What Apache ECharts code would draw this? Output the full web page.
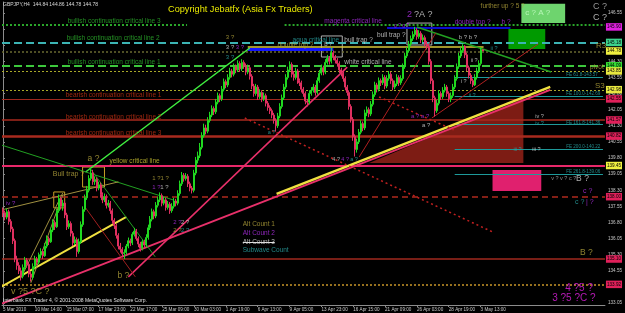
<!DOCTYPE html>
<html><head><meta charset="utf-8">
<script src="https://cdn.jsdelivr.net/npm/echarts@6/dist/echarts.min.js"></script>
<style>html,body{margin:0;padding:0;background:#000}#c{width:625px;height:313px}</style>
</head><body><div id="c"></div>
<script>
const FONT = 'Liberation Sans, Arial, sans-serif';

// ---------- DATA ----------
const xLabels = ['5 Mar 2010','10 Mar 14:00','15 Mar 07:00','17 Mar 23:00','22 Mar 17:00','25 Mar 09:00','30 Mar 03:00','1 Apr 19:00','6 Apr 13:00','9 Apr 05:00','13 Apr 23:00','16 Apr 15:00','21 Apr 09:00','26 Apr 03:00','28 Apr 19:00','3 May 13:00'];
const yTicks = [133.05,133.80,134.55,135.30,136.05,136.80,137.55,138.30,139.05,139.80,140.55,141.30,142.05,142.80,143.55,144.30,145.05,145.80,146.55];

const opens = [
137.40,137.25,137.05,137.30,136.85,136.50,135.95,135.10,134.80,134.55,
134.30,134.70,135.05,134.85,134.40,134.25,134.75,135.10,134.95,135.30,
135.45,135.25,135.70,136.05,135.90,136.45,136.80,136.60,137.35,137.90,
137.55,137.70,137.15,136.60,136.75,136.30,135.85,136.00,135.45,135.90,
136.70,137.40,137.95,138.30,138.85,139.10,138.70,138.80,138.40,138.55,
138.10,137.85,138.00,137.60,137.70,137.35,136.90,136.65,136.20,135.70,
135.55,135.35,135.40,135.70,135.95,135.85,136.25,136.40,136.05,135.80,
135.60,135.90,135.75,136.10,136.55,136.95,137.30,137.10,137.60,137.85,
138.05,137.70,137.85,137.50,137.65,137.35,137.55,137.80,137.70,138.15,
138.60,139.00,138.85,138.95,138.60,138.40,138.30,139.10,139.70,139.90,
140.30,140.85,141.20,141.05,141.55,141.80,142.10,141.95,142.40,142.70,
142.55,143.00,143.35,143.20,143.55,143.85,143.70,144.05,143.90,144.20,
143.95,144.25,144.10,143.80,144.00,143.60,143.15,142.80,143.10,142.65,
142.85,142.55,142.70,142.35,142.15,142.00,141.80,141.55,141.30,141.75,
142.20,142.60,143.10,143.55,143.90,144.15,143.70,143.55,143.85,143.40,
143.30,143.00,142.80,142.45,142.40,142.80,142.95,143.10,142.85,143.40,
143.75,144.00,143.80,144.25,144.45,144.30,144.70,144.50,144.35,144.20,
143.90,143.75,143.50,143.10,142.85,142.20,141.60,140.80,140.20,140.55,
141.00,141.40,141.20,141.90,142.05,141.85,142.30,142.75,143.20,143.00,
143.40,143.30,143.55,143.15,143.50,143.70,143.40,143.10,143.25,143.55,
143.30,143.50,144.05,144.55,144.80,145.10,145.35,145.55,145.75,145.45,
145.60,145.30,145.40,145.10,145.00,144.30,143.40,142.60,142.00,142.35,
142.80,142.65,142.95,143.10,142.80,142.55,142.70,143.10,143.50,144.05,
144.55,144.80,145.00,144.60,144.00,143.65,143.40,143.20,143.55,143.85,
144.20,144.84];
const closes = [
137.25,137.05,137.30,136.85,136.50,135.95,135.10,134.80,134.55,134.30,
134.70,135.05,134.85,134.40,134.25,134.75,135.10,134.95,135.30,135.45,
135.25,135.70,136.05,135.90,136.45,136.80,136.60,137.35,137.90,137.55,
137.70,137.15,136.60,136.75,136.30,135.85,136.00,135.45,135.90,136.70,
137.40,137.95,138.30,138.85,139.10,138.70,138.80,138.40,138.55,138.10,
137.85,138.00,137.60,137.70,137.35,136.90,136.65,136.20,135.70,135.55,
135.35,135.40,135.70,135.95,135.85,136.25,136.40,136.05,135.80,135.60,
135.90,135.75,136.10,136.55,136.95,137.30,137.10,137.60,137.85,138.05,
137.70,137.85,137.50,137.65,137.35,137.55,137.80,137.70,138.15,138.60,
139.00,138.85,138.95,138.60,138.40,138.30,139.10,139.70,139.90,140.30,
140.85,141.20,141.05,141.55,141.80,142.10,141.95,142.40,142.70,142.55,
143.00,143.35,143.20,143.55,143.85,143.70,144.05,143.90,144.20,143.95,
144.25,144.10,143.80,144.00,143.60,143.15,142.80,143.10,142.65,142.85,
142.55,142.70,142.35,142.15,142.00,141.80,141.55,141.30,141.75,142.20,
142.60,143.10,143.55,143.90,144.15,143.70,143.55,143.85,143.40,143.30,
143.00,142.80,142.45,142.40,142.80,142.95,143.10,142.85,143.40,143.75,
144.00,143.80,144.25,144.45,144.30,144.70,144.50,144.35,144.20,143.90,
143.75,143.50,143.10,142.85,142.20,141.60,140.80,140.20,140.55,141.00,
141.40,141.20,141.90,142.05,141.85,142.30,142.75,143.20,143.00,143.40,
143.30,143.55,143.15,143.50,143.70,143.40,143.10,143.25,143.55,143.30,
143.50,144.05,144.55,144.80,145.10,145.35,145.55,145.75,145.45,145.60,
145.30,145.40,145.10,145.00,144.30,143.40,142.60,142.00,142.35,142.80,
142.65,142.95,143.10,142.80,142.55,142.70,143.10,143.50,144.05,144.55,
144.80,145.00,144.60,144.00,143.65,143.40,143.20,143.55,143.85,144.20,
144.84,144.78];
const highs = [
137.50,137.35,137.45,137.40,136.95,136.60,136.05,135.25,134.95,134.70,
134.85,135.20,135.15,134.95,134.50,134.90,135.25,135.20,135.40,135.60,
135.55,135.85,136.20,136.15,136.55,136.95,136.90,137.45,138.10,138.00,
137.85,137.80,137.25,136.90,136.85,136.40,136.15,136.10,136.05,136.85,
137.55,138.10,138.50,139.00,139.35,139.25,138.95,138.90,138.70,138.65,
138.20,138.15,138.10,137.85,137.80,137.45,137.00,136.75,136.30,135.85,
135.65,135.55,135.80,136.10,136.05,136.35,136.55,136.50,136.15,135.90,
136.00,136.00,136.25,136.70,137.10,137.45,137.40,137.75,138.00,138.20,
138.15,138.00,137.95,137.80,137.75,137.70,137.95,137.90,138.30,138.75,
139.15,139.10,139.10,139.05,138.70,138.50,139.25,139.85,140.10,140.50,
141.00,141.40,141.35,141.70,141.95,142.25,142.20,142.55,142.85,142.80,
143.15,143.50,143.45,143.70,144.00,143.95,144.20,144.15,144.35,144.30,
144.40,144.35,144.20,144.15,144.10,143.70,143.25,143.25,143.20,143.00,
142.95,142.85,142.80,142.45,142.25,142.10,141.90,141.65,141.90,142.35,
142.75,143.25,143.70,144.05,144.30,144.25,143.85,144.00,143.95,143.50,
143.40,143.10,142.90,142.55,142.95,143.10,143.25,143.20,143.55,143.90,
144.15,144.10,144.40,144.60,144.55,144.93,144.80,144.60,144.45,144.30,
144.00,143.85,143.60,143.20,142.95,142.30,141.70,140.90,140.70,141.15,
141.55,141.50,142.05,142.20,142.15,142.45,142.90,143.35,143.30,143.55,
143.50,143.70,143.65,143.65,143.85,143.80,143.50,143.40,143.70,143.65,
143.65,144.20,144.70,144.95,145.25,145.50,145.70,145.90,145.85,145.75,
145.70,145.55,145.50,145.25,145.10,144.40,143.50,142.70,142.50,142.95,
142.90,143.10,143.25,143.20,142.90,142.85,143.25,143.65,144.20,144.70,
144.95,145.10,145.05,144.70,144.10,143.75,143.50,143.70,144.00,144.35,
144.95,144.86];
const lows = [
137.05,136.90,136.95,136.70,136.35,135.80,134.95,134.60,134.40,134.10,
134.20,134.60,134.70,134.25,134.05,134.15,134.65,134.80,134.85,135.15,
135.10,135.20,135.60,135.75,135.85,136.35,136.45,136.55,137.25,137.40,
137.35,137.00,136.45,136.50,136.15,135.70,135.75,135.20,135.35,135.80,
136.60,137.30,137.85,138.20,138.75,138.55,138.55,138.25,138.30,137.95,
137.70,137.75,137.45,137.50,137.20,136.75,136.50,136.05,135.55,135.40,
135.20,135.10,135.30,135.60,135.70,135.75,136.15,135.95,135.65,135.45,
135.50,135.60,135.65,136.00,136.45,136.85,136.95,137.00,137.50,137.75,
137.55,137.60,137.35,137.40,137.20,137.25,137.45,137.55,137.60,138.05,
138.50,138.70,138.75,138.45,138.25,138.15,138.20,139.00,139.55,139.80,
140.20,140.75,140.90,140.95,141.45,141.70,141.80,141.85,142.30,142.40,
142.45,142.90,143.05,143.10,143.45,143.55,143.60,143.75,143.80,143.80,
143.85,143.95,143.65,143.70,143.45,143.00,142.65,142.70,142.50,142.55,
142.40,142.45,142.20,142.00,141.85,141.65,141.40,141.03,141.20,141.65,
142.10,142.50,143.00,143.45,143.80,143.55,143.40,143.45,143.25,143.15,
142.85,142.65,142.30,142.20,142.30,142.70,142.85,142.70,142.75,143.30,
143.65,143.65,143.70,144.15,144.15,144.20,144.35,144.20,144.05,143.75,
143.60,143.35,142.95,142.70,142.05,141.45,140.60,139.87,140.05,140.45,
140.90,141.05,141.10,141.75,141.70,141.75,142.20,142.65,142.85,142.90,
143.15,143.20,143.00,143.05,143.40,143.25,142.95,143.00,143.15,143.15,
143.20,143.40,143.95,144.45,144.70,145.00,145.25,145.45,145.30,145.35,
145.15,145.20,144.95,144.85,144.15,143.25,142.40,141.73,141.90,142.25,
142.50,142.55,142.85,142.65,142.40,142.40,142.60,143.00,143.40,143.95,
144.45,144.70,144.45,143.85,143.50,143.25,143.10,143.15,143.45,143.75,
144.10,144.78];

// price levels shown as coloured boxes on the price scale
const boxLevels = [145.90,145.18,144.78,144.09,143.85,142.98,142.55,141.57,140.82,139.45,138.00,135.10,133.92];
// horizontal critical lines
const hLevels = [145.99,145.15,144.74,144.08,143.85,142.97,142.55,141.57,140.80,139.43,138.00,135.10,133.90];
// fibonacci extension levels
const feRatios = ['61.8','100.0','161.8','200.0','261.8'];
const feLevels = [143.57,142.69,141.36,140.22,139.06];

// ---------- STYLES / ANNOTATION GEOMETRY (data units: bar index, price) ----------
const AX_BARS = 303;
const boxColors = ['#e020e0','#3cd28c','#f0f040','#33dd33','#e8e840','#e8e840','#e0205a','#e0205a','#e0205a','#f0f040','#e0205a','#e0205a','#e0205a'];
const hStyle = [
 {c:'#2aa52a', w:2, t:[2,2], segs:[[-0.5,92.5],[141.5,302.5]]},
 {c:'#3cb4b4', w:2, t:[8,4]},
 {c:'#6a6a30', w:1.5, t:[2,2]},
 {c:'#3cc83c', w:2, t:[8,4]},
 {c:'#a8a828', w:1, t:[2,2]},
 {c:'#a8a828', w:1, t:[2,2]},
 {c:'#a0281e', w:1},
 {c:'#a82a1e', w:1.5},
 {c:'#a82a1e', w:2.5},
 {c:'#e8286a', w:2},
 {c:'#b02a1e', w:1.5, t:[6,4]},
 {c:'#a0281e', w:1.5},
 {c:'#96701e', w:2, t:[2,2]}
];
const partialLines = [
 {x0:123, x1:166, p:144.88, c:'#1414ff', w:3},
 {x0:123, x1:241.5, p:144.97, c:'#d8c838', w:1.5},
 {x0:193, x1:255, p:145.86, c:'#0c0cd0', w:2},
 {x0:120.5, x1:136.5, p:135.89, c:'#e0e0e0', w:1}
];
const trendLines = [
 {a:[-1,133.01], b:[275,142.97], c:'#e8306a', w:2},
 {a:[137.5,138.13], b:[275,143.11], c:'#f0e040', w:2.5},
 {a:[-1,133.80], b:[62,137.06], c:'#f0e040', w:2},
 {a:[41.5,139.15], b:[124,144.92], c:'#40f040', w:1.5},
 {a:[-1,140.41], b:[85.5,137.85], c:'#22a022', w:1},
 {a:[44,139.29], b:[76.5,135.20], c:'#22a022', w:1},
 {a:[208,145.90], b:[275.5,143.80], c:'#22a022', w:1.5},
 {a:[63,134.27], b:[173,144.03], c:'#e8306a', w:1.5},
 {a:[179,139.85], b:[217.5,145.62], c:'#b02020', w:1},
 {a:[215.5,141.66], b:[269,145.11], c:'#b02020', w:1},
 {a:[121.5,141.66], b:[246.5,136.34], c:'#c02020', w:1.5, t:[2,3]},
 {a:[189,142.64], b:[226.5,141.11], c:'#c02020', w:1.5, t:[2,3]},
 {a:[-1,137.38], b:[58,138.69], c:'#a09040', w:1},
 {a:[9,134.22], b:[30,138.17], c:'#a09040', w:1},
 {a:[14,133.99], b:[30,138.08], c:'#a09040', w:1},
 {a:[41.5,137.48], b:[66.5,134.27], c:'#a02020', w:1}
];
const rects = [
 {a:[260.5,146.98], b:[282.5,146.08], fill:'#6ed46e'},
 {a:[254,145.80], b:[272.5,144.87], fill:'#009a00'},
 {a:[246,139.24], b:[270.5,138.27], fill:'#e0206e'},
 {a:[25.5,138.22], b:[31,137.48], border:'#c8a028'},
 {a:[40,139.38], b:[51,138.45], border:'#c8a028'},
 {a:[160,145.48], b:[170.5,144.50], border:'#b0b0b0'},
 {a:[203,146.08], b:[215.5,145.06], border:'#b0b0b0'}
];
const triangle = [[184,139.57],[261.5,142.57],[261.5,139.57]];

const OL='#b4a43c', MG='#b030e8', WH='#d8d8d8', TL='#2aa8a8', GR='#2db42d', RD='#c83214', MG2='#e020e0';
const notes = [
 [32.5,146.18,'bullish continuation critical line 3',GR,6.5],
 [32,145.39,'bullish continuation critical line 2',GR,6.5],
 [32.5,144.27,'bullish continuation critical line 1',GR,6.5],
 [31.5,142.73,'bearish continuation critical line 1',RD,6.5],
 [31.5,141.71,'bearish continuation critical line 2',RD,6.5],
 [31.5,140.97,'bearish continuation critical line 3',RD,6.5],
 [112,145.43,'3 ?',OL,6],
 [112,144.97,'3 ?',WH,6],[117,144.97,'3 ?',MG,6],
 [112,144.50,'3 ?',TL,6],
 [145.5,145.29,'aqua critical line',TL,6.5],
 [138,145.04,'double top ?',OL,6.5],
 [171.5,145.29,'bull trap ?',WH,6.5],
 [161.5,145.06,'B ?',WH,5],
 [171.5,144.27,'white critical line',WH,6.5],
 [161.5,146.18,'magenta critical line',MG,6.5],
 [203,146.46,'2',MG,9],[206.5,146.46,'?A ?',WH,9],
 [196.5,145.95,'g ? g ?',MG,5],
 [188,145.53,'bull trap ?',WH,6.5],
 [227,146.13,'double top ?',MG,6.5],
 [250.5,146.13,'b ?',MG,6.5],
 [240,146.88,'further up ? 5 ?',OL,6.5],
 [262.5,146.58,'c ? A ?','#c8ffc8',8],
 [296.5,146.83,'C ?','#b8b8b8',9],[296.5,146.36,'C ?','#d8d8d8',9],
 [229,145.43,'b ? b ?',WH,6],
 [245,144.92,'ii ?',TL,5.5],
 [235,144.36,'ii ?',WH,5.5],
 [230,143.34,'i ?',WH,5.5],
 [234,142.73,'ii ?',TL,5.5],
 [298,145.01,'R3',OL,8],
 [295,144.04,'pivot',OL,6.5],
 [297.5,143.15,'S3',OL,8],
 [267.5,141.75,'iv ?',WH,5.5],[267.5,141.43,'iv ?',TL,5.5],
 [256.5,140.22,'iii ?',TL,5.5],[266,140.22,'iii ?',WH,5.5],
 [165.5,139.71,'4 ?',WH,5.5],[170,139.71,'4 ?',MG,5.5],[174.5,139.71,'a ?',TL,5.5],
 [205,141.75,'a ? a ?',MG,6],[210.5,141.34,'a ?',WH,6],
 [133,141.0,'a ?',TL,5.5],
 [275.5,138.83,'v ? v ? c ?','#b0b0b0',5.5],[288,138.83,'B ?',WH,8.5],
 [291.5,138.27,'c ?',MG,7],
 [287.5,137.76,'c ?',TL,7],[293,137.76,'| ?',MG,7],
 [290,135.38,'B ?',OL,8.5],
 [282.5,133.75,'4 ?5 ?',MG2,10],
 [276,133.29,'3 ?5 ?C ?',MG2,10],
 [1.5,137.71,'iv ?',MG,6],
 [25,139.06,'Bull trap ?',OL,7],
 [42.5,139.76,'a ?',OL,8.5],
 [53.5,139.66,'yellow critical line','#d2c832',6.5],
 [75,138.87,'1 ?1 ?',OL,6],[75,138.45,'1 ?',MG,6],[79,138.45,'1 ?',WH,6],
 [85.5,136.82,'2 ?',MG,6],[89.5,136.82,'2 ?',WH,6],[85.5,136.45,'2 ?',OL,6],[89.5,136.45,'2 ?',TL,6],
 [57.5,134.31,'b ?',OL,8.5],
 [4,133.57,'v ?5 ?C ?',OL,9],
 [120.5,136.73,'Alt Count 1',OL,6.5],
 [120.5,136.31,'Alt Count 2',MG,6.5],
 [120.5,135.89,'Alt Count 3',WH,6.5],
 [120.5,135.52,'Subwave Count',TL,6.5]
];

// ---------- BUILD ----------
const categories = Array.from({length: AX_BARS}, (_, i) => String(i));
const candles = closes.map((c, i) => [opens[i], c, lows[i], highs[i]]);
const last = closes.length - 1;

const lineItems = [];
hLevels.forEach((p, i) => {
  const s = hStyle[i];
  (s.segs || [[-0.5, 302.5]]).forEach(seg => {
    lineItems.push({coords:[[seg[0], p],[seg[1], p]], lineStyle:{color:s.c, width:s.w, type:s.t || 'solid', opacity:1}});
  });
});
partialLines.forEach(l => lineItems.push({coords:[[l.x0,l.p],[l.x1,l.p]], lineStyle:{color:l.c, width:l.w, opacity:1}}));
feLevels.forEach(p => lineItems.push({coords:[[227,p],[301.5,p]], lineStyle:{color:'#1e9a9a', width:1, opacity:1}}));
trendLines.forEach(l => lineItems.push({coords:[l.a, l.b], lineStyle:{color:l.c, width:l.w, type:l.t || 'solid', opacity:1}}));

const noteItems = notes.map(n => ({value:[n[0], n[1]], label:{formatter:n[2], color:n[3], fontSize:n[4]}}));
feLevels.forEach((p, i) => noteItems.push({value:[283, p + 0.09], label:{formatter:'FE ' + feRatios[i] + '-' + p.toFixed(2), color:'#2aa8a8', fontSize:4.6}}));

const chart = echarts.init(document.getElementById('c'), null, {renderer:'canvas'});
chart.setOption({
  animation:false,
  backgroundColor:'#000000',
  textStyle:{fontFamily:FONT},
  title:[
    {text:'GBPJPY,H4  ' + opens[last].toFixed(2) + ' ' + highs[last].toFixed(2) + ' ' + lows[last].toFixed(2) + ' ' + closes[last].toFixed(2),
     left:3, top:2, padding:0, textStyle:{color:'#d8d8d8', fontSize:5, fontWeight:'normal', fontFamily:FONT}},
    {text:'Copyright Jebatfx (Asia Fx Traders)', left:168, top:5, padding:0, textStyle:{color:'#e8e800', fontSize:9.2, fontWeight:'normal', fontFamily:FONT}},
    {text:'Interbank FX Trader 4, \u00a9 2001-2008 MetaQuotes Software Corp.', left:3, top:298, padding:0, textStyle:{color:'#e0e0e0', fontSize:5, fontWeight:'normal', fontFamily:FONT}}
  ],
  grid:{left:1, right:18, top:2, bottom:8, containLabel:false},
  xAxis:[
    {type:'category', data:categories, boundaryGap:true,
     axisLine:{show:true, lineStyle:{color:'#8c8c8c'}},
     axisTick:{show:true, length:2, alignWithLabel:true, interval:(i)=> i % 16 === 0 && i / 16 < xLabels.length, lineStyle:{color:'#8c8c8c'}},
     axisLabel:{show:true, interval:(i)=> i % 16 === 0 && i / 16 < xLabels.length, formatter:(v, i)=> xLabels[i / 16] || '', align:'left', color:'#c8c8c8', fontSize:4.6, margin:2, fontFamily:FONT},
     splitLine:{show:false}},
    {type:'value', min:-0.5, max:302.5, show:false}
  ],
  yAxis:{type:'value', position:'right', min:132.96, max:147.06, scale:true,
    axisLine:{show:true, lineStyle:{color:'#8c8c8c'}},
    axisTick:{show:true, length:2, customValues:yTicks, lineStyle:{color:'#8c8c8c'}},
    axisLabel:{show:true, customValues:yTicks, formatter:(v)=> Number(v).toFixed(2), color:'#c8c8c8', fontSize:4.6, margin:3, fontFamily:FONT},
    splitLine:{show:false}},
  series:[
    {type:'custom', xAxisIndex:1, yAxisIndex:0, z:1, silent:true, clip:false, data:[[0,140]],
     renderItem:(params, api)=>({type:'polygon', shape:{points: triangle.map(p => api.coord(p))}, style:{fill:'#7d1c14'}})},
    {type:'lines', coordinateSystem:'cartesian2d', xAxisIndex:1, yAxisIndex:0, z:2, silent:true, polyline:false,
     effect:{show:false}, data:lineItems},
    {type:'candlestick', xAxisIndex:0, yAxisIndex:0, z:3, data:candles, barWidth:1.5, silent:true,
     itemStyle:{color:'#20d820', color0:'#e03060', borderColor:'#20d820', borderColor0:'#e03060', borderWidth:1},
     markLine:{silent:true, symbol:['none','none'], z:6, lineStyle:{color:'rgba(0,0,0,0)', width:1, type:'solid'},
       label:{show:true, position:'end', distance:1, formatter:(p)=> Number(p.value).toFixed(2), color:'#000', fontSize:4.6, padding:[1.5,1,1,1], fontFamily:FONT},
       data: boxLevels.map((v, i) => ({yAxis:v, label:{backgroundColor:boxColors[i]}}))}},
    {type:'scatter', xAxisIndex:1, yAxisIndex:0, z:4, silent:true, symbolSize:0.01, itemStyle:{color:'rgba(0,0,0,0)'},
     label:{show:true, position:'right', distance:0, fontFamily:FONT},
     data:noteItems,
     markArea:{silent:true, z:1,
       data: rects.map(r => [{coord:r.a, itemStyle: r.fill ? {color:r.fill} : {color:'rgba(0,0,0,0)', borderColor:r.border, borderWidth:1}}, {coord:r.b}])}}
  ]
});
</script></body></html>
